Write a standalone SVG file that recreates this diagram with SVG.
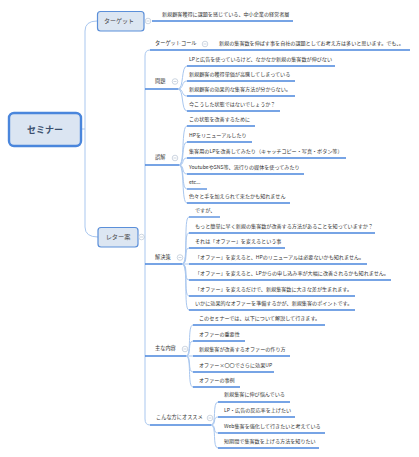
<svg xmlns="http://www.w3.org/2000/svg" width="419" height="457" viewBox="0 0 419 457">
<style>
text{font-family:"Noto Sans CJK JP","Noto Sans",sans-serif;fill:#333}
.t{font-size:5.1px}
.l2{font-size:5.2px}
.ul{stroke:#4a86dc;stroke-width:1.3;fill:none}
.br{stroke:#a9c7ef;stroke-width:1;fill:none}
.col{fill:#fff;stroke:#b8c4d4;stroke-width:0.7}
.colm{stroke:#b8c4d4;stroke-width:0.7}
.box{fill:#dce6f2;stroke:#5b8fd9;stroke-width:1.2}
.bt{font-size:6px;fill:#444;text-anchor:middle}
</style>
<rect width="419" height="457" fill="#fff"/>
<g id="connectors">
<path class="br" d="M97,21 Q85,21 85,31 L85,227 Q85,237 98,237"/>
<line class="br" x1="81" y1="129" x2="85" y2="129"/>
<line class="br" x1="138" y1="237" x2="145" y2="237"/>
<path class="br" d="M150,50 Q145,50 145,56 L145,419 Q145,425 150,425"/>
<line class="ul" x1="152" y1="21" x2="293" y2="21"/>
<!-- 問題 -->
<path class="br" d="M178,89 C184,89 181,66 187,66"/>
<path class="br" d="M178,89 C184,89 181,81 187,81"/>
<path class="br" d="M178,89 C184,89 181,96 187,96"/>
<path class="br" d="M178,89 C184,89 181,111 187,111"/>
<!-- 誤解 -->
<path class="br" d="M179,165 C185,165 181,126 187,126"/>
<path class="br" d="M179,165 C185,165 181,142 187,142"/>
<path class="br" d="M179,165 C185,165 181,158 187,158"/>
<path class="br" d="M179,165 C185,165 181,174 187,174"/>
<path class="br" d="M179,165 C185,165 181,189 187,189"/>
<path class="br" d="M179,165 C185,165 181,203 187,203"/>
<!-- 解決策 -->
<path class="br" d="M182,264 C189,264 183,217 189,217"/>
<path class="br" d="M182,264 C189,264 183,233 189,233"/>
<path class="br" d="M182,264 C189,264 183,248 189,248"/>
<path class="br" d="M182,264 L189,264"/>
<path class="br" d="M182,264 C189,264 183,280 189,280"/>
<path class="br" d="M182,264 C189,264 183,296 189,296"/>
<path class="br" d="M182,264 C189,264 183,310 189,310"/>
<!-- 主な内容 -->
<path class="br" d="M186,356 C192,356 187,325 193,325"/>
<path class="br" d="M186,356 C192,356 187,341 193,341"/>
<path class="br" d="M186,356 L193,356"/>
<path class="br" d="M186,356 C192,356 187,372 193,372"/>
<path class="br" d="M186,356 C192,356 187,387 193,387"/>
<!-- こんな方にオススメ -->
<path class="br" d="M211,425 C217,425 212,402 218,402"/>
<path class="br" d="M211,425 C217,425 212,417 218,417"/>
<path class="br" d="M211,425 C217,425 212,433 218,433"/>
<path class="br" d="M211,425 C217,425 212,448 218,448"/>
</g>

<g id="seminar">
<rect x="9" y="113" width="72" height="33" rx="5" fill="#dbe5f2" stroke="#4a86dc" stroke-width="2.4"/>
<text x="45" y="132.5" font-size="9px" font-weight="bold" fill="#3a4f6e" text-anchor="middle" style="fill:#3a4f6e">セミナー</text>
</g>

<g id="target">
<rect class="box" x="97.5" y="11.5" width="46.5" height="19.5" rx="3"/>
<text class="bt" x="119" y="23.2">ターゲット</text>
<circle class="col" cx="148" cy="21" r="2.8"/><line class="colm" x1="146.5" y1="21" x2="149.5" y2="21"/>
</g>
<g id="target-1"><text class="t" x="162" y="16">新規顧客獲得に課題を感じている、中小企業の経営者層</text></g>

<g id="letter">
<rect class="box" x="98" y="227.5" width="40" height="19.5" rx="3"/>
<text class="bt" x="118" y="239.3" style="font-size:6.2px">レター案</text>
<circle class="col" cx="141.5" cy="237" r="2.8"/><line class="colm" x1="140" y1="237" x2="143" y2="237"/>
</g>

<g id="targetcall">
<line class="ul" x1="150" y1="50" x2="410" y2="50"/>
<text class="l2" x="155" y="45">ターゲットコール</text>
<circle class="col" cx="205" cy="44" r="2.8"/><line class="colm" x1="203.5" y1="44" x2="206.5" y2="44"/>
<text class="t" x="219" y="45">新規の集客数を伸ばす事を自社の課題としてお考え方は多いと思います。でも、。</text>
</g>

<g id="mondai">
<line class="ul" x1="145" y1="89" x2="178" y2="89"/>
<text class="l2" x="155" y="83">問題</text>
<circle class="col" cx="175" cy="81.5" r="2.8"/><line class="colm" x1="173.5" y1="81.5" x2="176.5" y2="81.5"/>
</g>
<g id="mondai-1"><line class="ul" x1="187" y1="66" x2="335" y2="66"/><text class="t" x="189" y="60.5">LPと広告を使っているけど、なかなか新規の集客数が伸びない</text></g>
<g id="mondai-2"><line class="ul" x1="187" y1="81" x2="295" y2="81"/><text class="t" x="189" y="75.5">新規顧客の獲得単価が高騰してしまっている</text></g>
<g id="mondai-3"><line class="ul" x1="187" y1="96" x2="295" y2="96"/><text class="t" x="189" y="90.5">新規顧客の効果的な集客方法が分からない。</text></g>
<g id="mondai-4"><line class="ul" x1="187" y1="111" x2="280" y2="111"/><text class="t" x="189" y="105.5">今こうした状態ではないでしょうか？</text></g>

<g id="gokai">
<line class="ul" x1="145" y1="165" x2="179" y2="165"/>
<text class="l2" x="155" y="159">誤解</text>
<circle class="col" cx="175" cy="158" r="2.8"/><line class="colm" x1="173.5" y1="158" x2="176.5" y2="158"/>
</g>
<g id="gokai-1"><line class="ul" x1="187" y1="126" x2="255" y2="126"/><text class="t" x="189" y="120.5">この状態を改善するために</text></g>
<g id="gokai-2"><line class="ul" x1="187" y1="142" x2="252" y2="142"/><text class="t" x="189" y="136.5">HPをリニューアルしたり</text></g>
<g id="gokai-3"><line class="ul" x1="187" y1="158" x2="346" y2="158"/><text class="t" x="189" y="152.5">集客用のLPを改善してみたり（キャッチコピー・写真・ボタン等）</text></g>
<g id="gokai-4"><line class="ul" x1="187" y1="174" x2="304" y2="174"/><text class="t" x="189" y="168.5">YoutubeやSNS等、流行りの媒体を使ってみたり</text></g>
<g id="gokai-5"><line class="ul" x1="187" y1="189" x2="207" y2="189"/><text class="t" x="189" y="183.5">etc...</text></g>
<g id="gokai-6"><line class="ul" x1="187" y1="203" x2="290" y2="203"/><text class="t" x="189" y="197.5">色々と手を加えられて来たかも知れません</text></g>

<g id="kaiketsu">
<line class="ul" x1="145" y1="264" x2="182" y2="264"/>
<text class="l2" x="155" y="259">解決策</text>
<circle class="col" cx="180" cy="257.5" r="2.8"/><line class="colm" x1="178.5" y1="257.5" x2="181.5" y2="257.5"/>
</g>
<g id="kaiketsu-1"><line class="ul" x1="189" y1="217" x2="220" y2="217"/><text class="t" x="195" y="211.5">ですが、</text></g>
<g id="kaiketsu-2"><line class="ul" x1="189" y1="233" x2="375" y2="233"/><text class="t" x="195" y="227.5">もっと簡単に早く新規の集客数が改善する方法があることを知っていますか？</text></g>
<g id="kaiketsu-3"><line class="ul" x1="189" y1="248" x2="285" y2="248"/><text class="t" x="195" y="242.5">それは「オファー」を変えるという事</text></g>
<g id="kaiketsu-4"><line class="ul" x1="189" y1="264" x2="367" y2="264"/><text class="t" x="195" y="258.5">「オファー」を変えると、HPのリニューアルは必要ないかも知れません。</text></g>
<g id="kaiketsu-5"><line class="ul" x1="189" y1="280" x2="391" y2="280"/><text class="t" x="195" y="274.5">「オファー」を変えると、LPからの申し込み率が大幅に改善されるかも知れません。</text></g>
<g id="kaiketsu-6"><line class="ul" x1="189" y1="296" x2="355" y2="296"/><text class="t" x="195" y="290.5">「オファー」を変えるだけで、新規集客数に大きな差が生まれます。</text></g>
<g id="kaiketsu-7"><line class="ul" x1="189" y1="310" x2="355" y2="310"/><text class="t" x="195" y="304.5">いかに効果的なオファーを準備するかが、新規集客のポイントです。</text></g>

<g id="naiyou">
<line class="ul" x1="145" y1="356" x2="186" y2="356"/>
<text class="l2" x="155" y="350">主な内容</text>
<circle class="col" cx="185" cy="349" r="2.8"/><line class="colm" x1="183.5" y1="349" x2="186.5" y2="349"/>
</g>
<g id="naiyou-1"><line class="ul" x1="193" y1="325" x2="325" y2="325"/><text class="t" x="199" y="319.5">このセミナーでは、以下について解説して行きます。</text></g>
<g id="naiyou-2"><line class="ul" x1="193" y1="341" x2="245" y2="341"/><text class="t" x="199" y="335.5">オファーの重要性</text></g>
<g id="naiyou-3"><line class="ul" x1="193" y1="356" x2="290" y2="356"/><text class="t" x="199" y="350.5">新規集客が改善するオファーの作り方</text></g>
<g id="naiyou-4"><line class="ul" x1="193" y1="372" x2="274" y2="372"/><text class="t" x="199" y="366.5">オファー×〇〇でさらに効果UP</text></g>
<g id="naiyou-5"><line class="ul" x1="193" y1="387" x2="240" y2="387"/><text class="t" x="199" y="381.5">オファーの事例</text></g>

<g id="osusume">
<line class="ul" x1="150" y1="425" x2="211" y2="425"/>
<text class="l2" x="156" y="419">こんな方にオススメ</text>
<circle class="col" cx="210" cy="418" r="2.8"/><line class="colm" x1="208.5" y1="418" x2="211.5" y2="418"/>
</g>
<g id="osusume-1"><line class="ul" x1="218" y1="402" x2="290" y2="402"/><text class="t" x="224" y="396">新規集客に伸び悩んでいる</text></g>
<g id="osusume-2"><line class="ul" x1="218" y1="417" x2="295" y2="417"/><text class="t" x="224" y="411.5">LP・広告の反応率を上げたい</text></g>
<g id="osusume-3"><line class="ul" x1="218" y1="433" x2="325" y2="433"/><text class="t" x="224" y="427.5">Web集客を強化して行きたいと考えている</text></g>
<g id="osusume-4"><line class="ul" x1="218" y1="448" x2="319" y2="448"/><text class="t" x="224" y="442.5">短期間で集客数を上げる方法を知りたい</text></g>
</svg>
